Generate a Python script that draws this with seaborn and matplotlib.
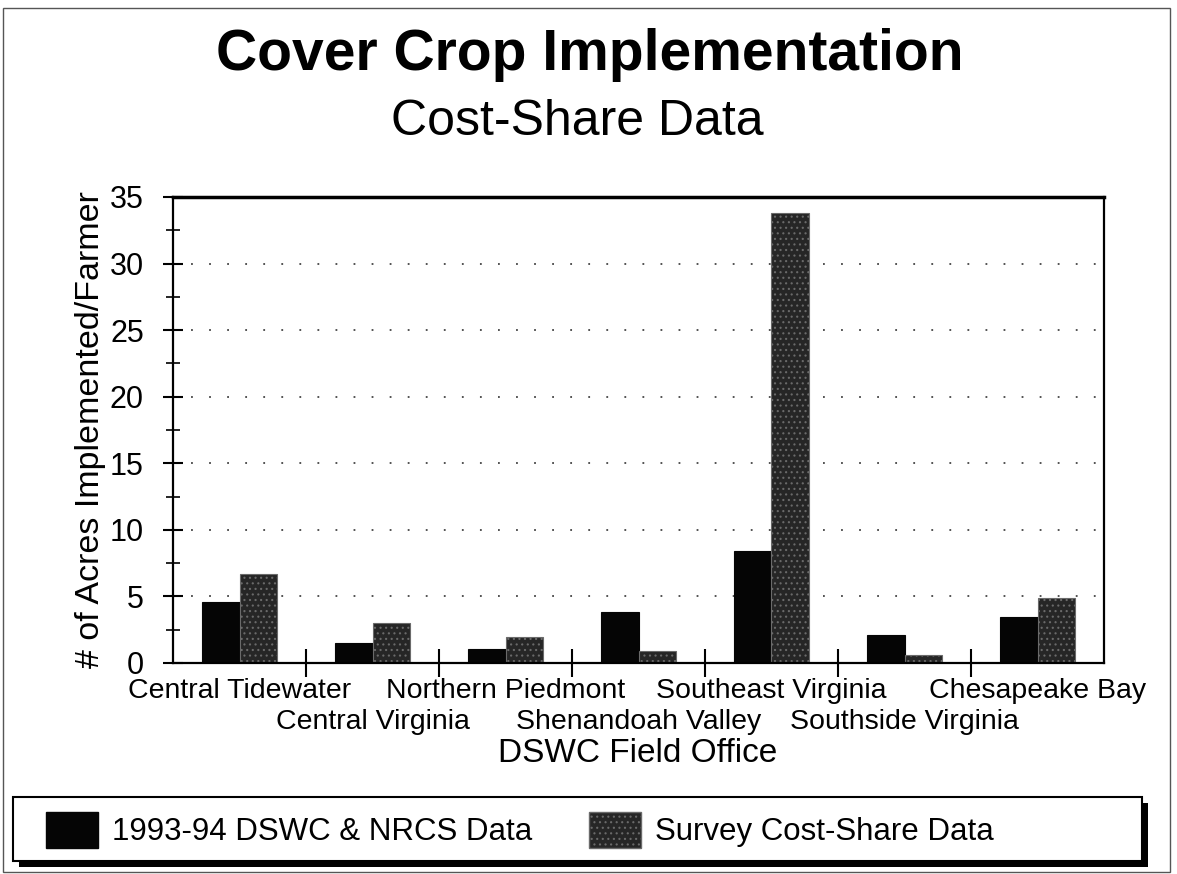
import matplotlib
matplotlib.use("Agg")
import matplotlib.pyplot as plt
from matplotlib.patches import Rectangle, Patch
from matplotlib.ticker import MultipleLocator, FixedLocator
import seaborn as sns
import pandas as pd

# Field offices and acres per farmer for each data source
offices = ["Central Tidewater", "Central Virginia", "Northern Piedmont",
           "Shenandoah Valley", "Southeast Virginia", "Southside Virginia",
           "Chesapeake Bay"]
dswc_nrcs = [4.6, 1.5, 1.05, 3.8, 8.4, 2.1, 3.45]
survey = [6.7, 3.0, 1.95, 0.9, 33.8, 0.6, 4.9]
series_names = ["1993-94 DSWC & NRCS Data", "Survey Cost-Share Data"]
y_ticks = [0, 5, 10, 15, 20, 25, 30, 35]

df = pd.DataFrame({
    "office": offices * 2,
    "acres": dswc_nrcs + survey,
    "source": [series_names[0]] * len(offices) + [series_names[1]] * len(offices),
})

sns.set_theme(style="white")
plt.rcParams["font.family"] = ["Liberation Sans", "DejaVu Sans"]
plt.rcParams.update({"text.color": "black", "axes.labelcolor": "black",
                     "xtick.color": "black", "ytick.color": "black",
                     "hatch.linewidth": 0.8})

W, H = 1177, 874
fig = plt.figure(figsize=(W / 100, H / 100), dpi=100)
fig.patch.set_facecolor("white")

ax = fig.add_axes([173 / W, 1 - 663 / H, (1104 - 173) / W, (663 - 197) / H])

dark = "#050505"
speck = "#262626"
speck_edge = "#6a6a6a"
sns.barplot(data=df, x="office", y="acres", hue="source", order=offices,
            hue_order=series_names, palette=[dark, speck], width=0.56,
            saturation=1, ax=ax, legend=False, edgecolor=dark, linewidth=0.8)

# stippled fill for the survey series
n = len(offices)
for i, bar in enumerate(ax.patches[:2 * n]):
    if i >= n:
        bar.set_hatch("...")
        bar.set_edgecolor(speck_edge)

ax.set_xlim(-0.5, n - 0.5)
ax.set_ylim(0, 35)

# y axis ticks
ax.yaxis.set_major_locator(FixedLocator(y_ticks))
ax.yaxis.set_minor_locator(MultipleLocator(2.5))
ax.tick_params(axis="y", which="major", direction="inout", length=14, width=1.5,
               labelsize=22, pad=14, left=True)
ax.tick_params(axis="y", which="minor", direction="inout", length=10, width=1.2,
               left=True)

# category labels on two staggered rows, ticks at category boundaries
ax.set_xticks(range(n))
ax.set_xticklabels(offices, fontsize=20.5)
ax.tick_params(axis="x", which="major", length=0, pad=11)
for i, tick in enumerate(ax.xaxis.get_major_ticks()):
    if i % 2 == 1:
        tick.set_pad(33)
ax.set_xticks([i + 0.5 for i in range(n - 1)], minor=True)
ax.tick_params(axis="x", which="minor", direction="inout", length=20, width=1.5,
               bottom=True)

ax.set_xlabel("DSWC Field Office", fontsize=24)
ax.xaxis.set_label_coords((638 - 173) / 931, (663 - 738) / 466)
ax.set_ylabel("# of Acres Implemented/Farmer", fontsize=24.5)
ax.yaxis.set_label_coords((106 - 173) / 931, 0.5)

# dotted horizontal gridlines
for v in y_ticks[1:-1]:
    ax.axhline(v, color="#444444", linestyle=(0, (1, 9)), linewidth=1.3, zorder=0)

for s in ax.spines.values():
    s.set_visible(True)
    s.set_color("black")
    s.set_linewidth(1.6)
ax.spines["top"].set_linewidth(2.5)

# titles
fig.text(590 / W, 1 - 55 / H, "Cover Crop Implementation", ha="center",
         va="center", fontsize=41, fontweight="bold")
fig.text(577 / W, 1 - 122 / H, "Cost-Share Data", ha="center", va="center",
         fontsize=36)

# legend box with drop shadow
bx0, bx1, by0, by1 = 13, 1142, 797, 861
fig.patches.append(Rectangle(((bx0 + 6) / W, 1 - (by1 + 6) / H), (bx1 - bx0) / W,
                             (by1 - by0) / H, transform=fig.transFigure,
                             facecolor="black", edgecolor="none", zorder=3))
fig.patches.append(Rectangle((bx0 / W, 1 - by1 / H), (bx1 - bx0) / W,
                             (by1 - by0) / H, transform=fig.transFigure,
                             facecolor="white", edgecolor="black", linewidth=1.5,
                             zorder=4))

handles = [Patch(facecolor=dark, edgecolor=dark),
           Patch(facecolor=speck, edgecolor=speck_edge, hatch="...")]
leg = fig.legend(handles, series_names, loc="center left",
                 bbox_to_anchor=(30 / W, 1 - 830 / H), ncol=2, frameon=False,
                 fontsize=22.5, handlelength=1.66, handleheight=1.41,
                 handletextpad=0.45, columnspacing=1.82, borderpad=0)
leg.set_zorder(5)

# outer page frame
fig.patches.append(Rectangle((3 / W, 1 - 872 / H), (1170 - 3) / W, (872 - 8) / H,
                             transform=fig.transFigure, facecolor="none",
                             edgecolor="#555555", linewidth=1.0, zorder=1))

fig.savefig("out.png", dpi=100)
